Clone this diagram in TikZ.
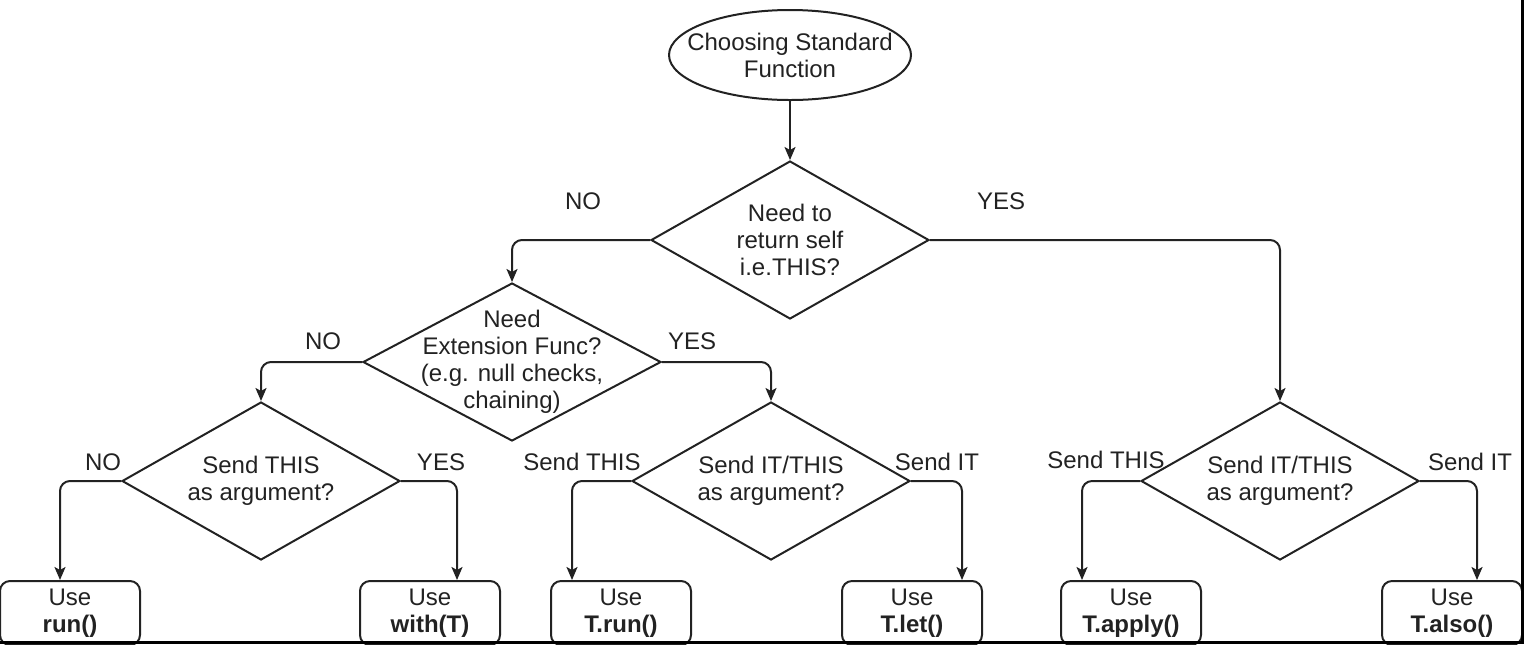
\documentclass[tikz,border=0pt]{standalone}
\usepackage{fontspec}
\setmainfont{Liberation Sans}
\usetikzlibrary{shapes.geometric,arrows.meta}

\definecolor{ink}{RGB}{34,34,34}

\begin{document}
\begin{tikzpicture}[x=0.5pt, y=-0.5pt,
    font=\fontsize{12}{13.5}\selectfont, color=ink,
    decision/.style={draw, diamond, line width=1pt, inner sep=0pt,
        minimum width=139pt, minimum height=79pt},
    usebox/.style={draw, rectangle, rounded corners=5pt, line width=1pt,
        inner sep=0pt, minimum width=70pt, minimum height=32pt, align=center},
    flow/.style={draw, line width=1pt, rounded corners=5pt,
        -{Stealth[length=6.5pt, width=5.5pt, inset=1.5pt]}},
    tag/.style={inner sep=0pt}]
            \useasboundingbox (0,0) rectangle (1524,644);

            % start and questions
            \node[draw, ellipse, line width=1pt, inner sep=0pt,
                minimum width=121pt, minimum height=45pt,
                label={[align=center]center:{Choosing Standard\\Function}}] (start) at (790,55) {};
            \node[decision, label={[align=center]center:{Need to\\return self\\i.e.THIS?}}] (self) at (790,240) {};
            \node[decision, minimum width=149pt,
                label={[align=center]center:{Need\\Extension Func?\\(e.g. null checks,\\chaining)}}] (ext) at (512,362) {};
            \node[decision, label={[align=center]center:{Send THIS\\as argument?}}] (plain) at (261,481) {};
            \node[decision, label={[align=center]center:{Send IT/THIS\\as argument?}}] (pick) at (771,481) {};
            \node[decision, label={[align=center]center:{Send IT/THIS\\as argument?}}] (scope) at (1280,481) {};

            % answers
            \node[usebox] (run) at (70,613) {Use\\\textbf{run()}};
            \node[usebox] (with) at (430,613) {Use\\\textbf{with(T)}};
            \node[usebox] (trun) at (621,613) {Use\\\textbf{T.run()}};
            \node[usebox] (tlet) at (912,613) {Use\\\textbf{T.let()}};
            \node[usebox] (tapply) at (1131,613) {Use\\\textbf{T.apply()}};
            \node[usebox] (talso) at (1452,613) {Use\\\textbf{T.also()}};

            % branch labels
            \node[tag] (no1) at (583,201) {NO};
            \node[tag] (yes1) at (1001,201) {YES};
            \node[tag] (no2) at (323,341) {NO};
            \node[tag] (yes2) at (692,341) {YES};
            \node[tag] (no3) at (103,462) {NO};
            \node[tag] (yes3) at (441,462) {YES};
            \node[tag] (this1) at (582,462) {Send THIS};
            \node[tag] (it1) at (937,462) {Send IT};
            \node[tag] (this2) at (1106,460) {Send THIS};
            \node[tag] (it2) at (1470,462) {Send IT};

            \draw[flow] (start) -- (self);
            \draw[flow] (self.west) -| (ext.north);
            \draw[flow] (self.east) -| (scope.north);
            \draw[flow] (ext.west) -| (plain.north);
            \draw[flow] (ext.east) -| (pick.north);
            \draw[flow] (plain.west) -| ([xshift=-5pt]run.north);
            \draw[flow] (plain.east) -| ([xshift=13.5pt]with.north);
            \draw[flow] (pick.west) -| ([xshift=-24.5pt]trun.north);
            \draw[flow] (pick.east) -| ([xshift=25pt]tlet.north);
            \draw[flow] (scope.west) -| ([xshift=-24.5pt]tapply.north);
            \draw[flow] (scope.east) -| ([xshift=12.5pt]talso.north);

            % frame edges
            \fill[black] (0,641) rectangle (1524,644);
            \fill[black] (1521,0) rectangle (1524,644);
        \end{tikzpicture}
\end{document}
